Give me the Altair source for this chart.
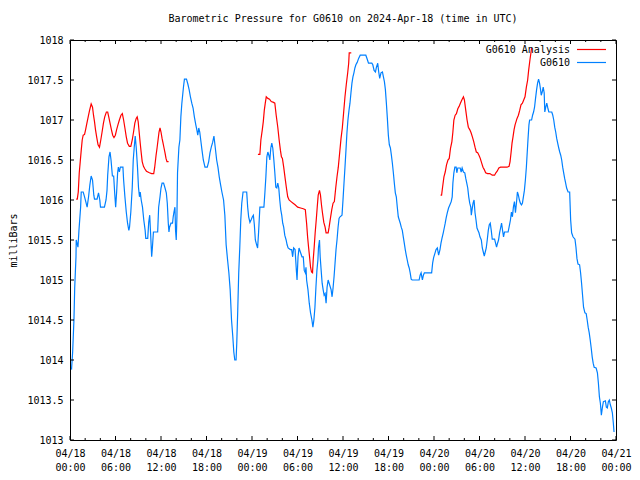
import altair as alt
import pandas as pd

# ---------------- data ----------------
# time axis: hours after 2024-04-18 00:00 UTC ; pressure in milliBars
obs_hours = [0.2, 0.35, 0.52, 0.62, 0.79, 0.82, 1.05, 1.18, 1.40, 1.48, 1.74, 1.92, 2.13, 2.26, 2.45, 2.62,
             2.79, 2.97, 3.14, 3.23, 3.57, 3.76, 3.93, 4.02, 4.54, 4.75, 4.88, 4.97, 5.14, 5.28, 5.41, 5.59,
             5.76, 5.89, 6.02, 6.15, 6.28, 6.38, 6.51, 6.64, 6.81, 6.98, 7.07, 7.24, 7.42, 7.59, 7.76, 7.85,
             8.02, 8.21, 8.34, 8.47, 8.60, 8.73, 8.90, 9.03, 9.16, 9.26, 9.39, 9.56, 9.73, 9.91, 9.99, 10.25,
             10.38, 10.51, 10.64, 10.77, 10.87, 11.00, 11.56, 11.69, 11.87, 12.00, 12.14, 12.34, 12.53, 12.70,
             12.83, 12.96, 13.05, 13.13, 13.31, 13.52, 13.61, 13.71, 13.84, 13.92, 14.01, 14.10, 14.18, 14.36,
             14.49, 14.62, 14.75, 14.96, 15.09, 15.36, 15.54, 15.71, 15.88, 16.06, 16.23, 16.40, 16.59, 16.72,
             16.85, 16.98, 17.11, 17.24, 17.41, 17.58, 17.80, 18.10, 18.29, 18.46, 18.63, 18.81, 18.98, 19.15,
             19.34, 19.51, 19.68, 19.86, 20.03, 20.25, 20.42, 20.59, 20.78, 20.95, 21.12, 21.30, 21.47, 21.60,
             21.73, 21.90, 21.99, 22.12, 22.25, 22.39, 22.52, 22.65, 22.82, 23.30, 23.43, 23.56, 23.73, 23.92,
             24.05, 24.18, 24.31, 24.44, 24.61, 24.74, 24.87, 25.04, 25.57, 25.70, 25.83, 25.96, 26.09, 26.22,
             26.35, 26.48, 26.61, 26.74, 26.88, 27.01, 27.14, 27.27, 27.40, 27.53, 27.66, 27.79, 27.92, 28.05,
             28.18, 28.32, 28.50, 28.63, 28.76, 29.06, 29.23, 29.36, 29.49, 29.68, 29.85, 29.94, 30.07, 30.20,
             30.41, 30.59, 30.76, 30.89, 31.03, 31.12, 31.20, 31.38, 31.55, 31.72, 31.90, 32.03, 32.16, 32.30,
             32.43, 32.56, 32.69, 32.77, 32.90, 32.99, 33.12, 33.25, 33.38, 33.51, 33.64, 33.77, 33.90, 34.04,
             34.17, 34.43, 34.56, 34.69, 34.82, 34.95, 35.08, 35.21, 35.35, 35.48, 35.61, 35.87, 36.00, 36.13,
             36.26, 36.39, 36.52, 36.65, 36.79, 36.92, 37.05, 37.18, 37.31, 37.44, 37.57, 37.70, 37.87, 38.06,
             38.27, 39.01, 39.23, 39.36, 39.80, 39.93, 40.10, 40.28, 40.41, 40.58, 40.71, 40.84, 41.01, 41.20,
             41.33, 41.46, 41.59, 41.72, 41.85, 41.98, 42.11, 42.25, 42.38, 42.51, 42.64, 42.77, 42.90, 43.03,
             43.16, 43.29, 43.42, 43.55, 43.68, 43.82, 43.95, 44.08, 44.21, 44.34, 44.47, 44.60, 44.73, 44.86,
             44.99, 45.12, 46.04, 46.17, 46.30, 46.47, 46.60, 46.73, 47.48, 47.69, 47.82, 47.95, 48.14, 48.27,
             48.44, 48.61, 48.79, 48.92, 49.05, 49.22, 49.35, 49.48, 49.61, 49.75, 49.92, 50.10, 50.27, 50.40,
             50.49, 50.62, 50.75, 50.92, 51.01, 51.14, 51.45, 51.58, 51.71, 51.88, 52.06, 52.19, 52.32, 52.45,
             52.58, 52.71, 52.85, 52.92, 53.02, 53.15, 53.28, 53.41, 53.54, 53.67, 53.80, 53.93, 54.06, 54.24,
             54.37, 54.50, 54.63, 54.76, 54.89, 55.02, 55.16, 55.29, 55.42, 55.55, 55.68, 55.99, 56.25, 56.38,
             56.51, 56.65, 56.78, 56.91, 57.04, 57.17, 57.30, 57.77, 57.90, 58.08, 58.21, 58.34, 58.47, 58.61,
             58.74, 58.87, 59.00, 59.13, 59.26, 59.39, 59.53, 59.66, 59.79, 59.92, 60.05, 60.18, 60.26, 60.39,
             60.52, 60.61, 60.87, 61.00, 61.13, 61.26, 61.39, 61.53, 61.66, 61.79, 61.92, 62.05, 62.14, 62.27,
             62.40, 62.53, 62.61, 62.74, 62.87, 63.01, 63.14, 63.53, 63.66, 63.79, 63.92, 64.05, 64.18, 64.31,
             64.45, 64.58, 64.71, 64.84, 64.97, 65.10, 65.23, 65.36, 65.49, 65.68, 65.89, 66.02, 66.15, 66.33,
             66.59, 66.72, 66.85, 66.99, 67.20, 67.33, 67.46, 67.59, 67.72, 67.90, 68.07, 68.20, 68.33, 68.47,
             68.60, 68.73, 68.86, 68.99, 69.12, 69.38, 69.55, 69.68, 69.81, 69.94, 70.07, 70.21, 70.34, 70.60,
             70.73, 70.86, 70.99, 71.12, 71.25, 71.38, 71.52, 71.65, 71.74]
obs_mbar = [1013.88, 1014.10, 1014.50, 1014.90, 1015.29, 1015.50, 1015.41, 1015.62, 1015.91, 1016.10, 1016.10,
            1016.04, 1015.96, 1015.91, 1016.04, 1016.19, 1016.30, 1016.25, 1016.06, 1016.01, 1016.01, 1016.09,
            1016.00, 1015.91, 1015.91, 1016.00, 1016.12, 1016.31, 1016.54, 1016.60, 1016.50, 1016.30, 1016.30,
            1016.09, 1015.91, 1016.10, 1016.34, 1016.41, 1016.35, 1016.41, 1016.41, 1016.41, 1016.25, 1016.04,
            1015.85, 1015.71, 1015.62, 1015.66, 1015.85, 1016.16, 1016.50, 1016.66, 1016.80, 1016.66, 1016.41,
            1016.16, 1016.04, 1016.10, 1016.00, 1015.91, 1015.75, 1015.62, 1015.52, 1015.52, 1015.72, 1015.81,
            1015.56, 1015.29, 1015.41, 1015.60, 1015.60, 1015.91, 1016.04, 1016.15, 1016.21, 1016.21, 1016.15,
            1016.09, 1015.96, 1015.71, 1015.60, 1015.66, 1015.71, 1015.71, 1015.79, 1015.85, 1015.91, 1015.62,
            1015.50, 1015.79, 1016.34, 1016.66, 1016.75, 1017.04, 1017.21, 1017.41, 1017.51, 1017.51, 1017.45,
            1017.38, 1017.29, 1017.21, 1017.15, 1017.04, 1016.94, 1016.88, 1016.81, 1016.90, 1016.85, 1016.75,
            1016.62, 1016.50, 1016.41, 1016.41, 1016.48, 1016.59, 1016.66, 1016.72, 1016.80, 1016.66, 1016.50,
            1016.41, 1016.29, 1016.19, 1016.10, 1016.00, 1015.81, 1015.44, 1015.25, 1015.09, 1014.88, 1014.50,
            1014.29, 1014.10, 1014.00, 1014.00, 1014.21, 1014.62, 1015.09, 1015.41, 1015.75, 1015.96, 1016.10,
            1016.10, 1015.91, 1015.79, 1015.72, 1015.76, 1015.79, 1015.81, 1015.69, 1015.50, 1015.44, 1015.40,
            1015.60, 1015.91, 1015.91, 1016.09, 1016.29, 1016.54, 1016.60, 1016.56, 1016.50, 1016.65, 1016.71,
            1016.65, 1016.50, 1016.34, 1016.16, 1016.15, 1016.21, 1016.15, 1016.00, 1015.88, 1015.81, 1015.71,
            1015.66, 1015.56, 1015.50, 1015.44, 1015.40, 1015.38, 1015.38, 1015.29, 1015.40, 1015.38, 1015.12,
            1015.00, 1015.29, 1015.40, 1015.34, 1015.29, 1015.29, 1015.12, 1015.09, 1015.16, 1015.00, 1014.88,
            1014.71, 1014.59, 1014.50, 1014.41, 1014.50, 1014.66, 1014.91, 1015.12, 1015.25, 1015.41, 1015.50,
            1015.29, 1015.12, 1014.96, 1014.88, 1014.81, 1014.83, 1014.71, 1014.91, 1015.00, 1014.96, 1014.88,
            1014.79, 1014.90, 1015.04, 1015.21, 1015.38, 1015.50, 1015.66, 1015.77, 1015.79, 1015.81, 1016.00,
            1016.21, 1016.41, 1016.62, 1016.84, 1017.00, 1017.12, 1017.21, 1017.34, 1017.46, 1017.54, 1017.59,
            1017.65, 1017.69, 1017.72, 1017.77, 1017.81, 1017.81, 1017.75, 1017.71, 1017.71, 1017.69, 1017.62,
            1017.60, 1017.66, 1017.71, 1017.60, 1017.52, 1017.59, 1017.60, 1017.54, 1017.48, 1017.38, 1017.21,
            1017.02, 1016.81, 1016.69, 1016.65, 1016.56, 1016.46, 1016.34, 1016.21, 1016.09, 1016.04, 1015.91,
            1015.79, 1015.75, 1015.71, 1015.66, 1015.62, 1015.54, 1015.46, 1015.38, 1015.31, 1015.25, 1015.19,
            1015.15, 1015.09, 1015.01, 1015.00, 1015.00, 1015.06, 1015.09, 1015.00, 1015.06, 1015.09, 1015.09,
            1015.09, 1015.21, 1015.28, 1015.34, 1015.38, 1015.40, 1015.31, 1015.38, 1015.46, 1015.52, 1015.59,
            1015.65, 1015.71, 1015.78, 1015.84, 1015.90, 1015.94, 1015.98, 1016.04, 1016.21, 1016.34, 1016.41,
            1016.41, 1016.34, 1016.40, 1016.40, 1016.35, 1016.40, 1016.35, 1016.34, 1016.27, 1016.21, 1016.15,
            1016.04, 1015.96, 1015.91, 1015.81, 1015.88, 1015.96, 1016.00, 1015.84, 1015.75, 1015.65, 1015.62,
            1015.59, 1015.54, 1015.50, 1015.40, 1015.35, 1015.30, 1015.35, 1015.40, 1015.50, 1015.62, 1015.69,
            1015.71, 1015.62, 1015.51, 1015.51, 1015.41, 1015.46, 1015.50, 1015.59, 1015.65, 1015.71, 1015.62,
            1015.54, 1015.60, 1015.60, 1015.66, 1015.75, 1015.85, 1015.79, 1015.91, 1015.98, 1015.84, 1015.96,
            1016.10, 1016.06, 1016.00, 1015.96, 1015.94, 1015.96, 1016.04, 1016.12, 1016.25, 1016.41, 1016.54,
            1016.75, 1016.94, 1017.00, 1017.00, 1017.06, 1017.10, 1017.16, 1017.27, 1017.38, 1017.46, 1017.51,
            1017.46, 1017.38, 1017.31, 1017.35, 1017.41, 1017.34, 1017.10, 1017.16, 1017.21, 1017.15, 1017.10,
            1017.10, 1017.06, 1017.00, 1016.91, 1016.85, 1016.77, 1016.71, 1016.65, 1016.60, 1016.56, 1016.50,
            1016.41, 1016.34, 1016.27, 1016.21, 1016.15, 1016.10, 1016.10, 1015.75, 1015.59, 1015.54, 1015.51,
            1015.41, 1015.27, 1015.20, 1015.19, 1015.09, 1014.96, 1014.81, 1014.66, 1014.59, 1014.58, 1014.50,
            1014.41, 1014.34, 1014.25, 1014.15, 1014.04, 1013.96, 1013.91, 1013.90, 1013.84, 1013.71, 1013.54,
            1013.46, 1013.31, 1013.41, 1013.48, 1013.49, 1013.41, 1013.40, 1013.48, 1013.50, 1013.44, 1013.40,
            1013.34, 1013.21, 1013.10]

ana1_hours = [0.82, 0.96, 1.09, 1.22, 1.35, 1.48, 1.61, 1.74, 1.92, 2.06, 2.23, 2.40, 2.58, 2.79, 2.97, 3.10,
              3.23, 3.36, 3.53, 3.70, 3.89, 4.06, 4.23, 4.41, 4.58, 4.80, 4.97, 5.11, 5.28, 5.46, 5.63, 5.80,
              5.98, 6.15, 6.32, 6.51, 6.72, 6.90, 7.07, 7.24, 7.42, 7.59, 7.82, 8.02, 8.21, 8.38, 8.55, 8.73,
              8.86, 8.99, 9.12, 9.26, 9.39, 9.52, 9.69, 9.86, 10.08, 10.47, 10.77, 11.04, 11.17, 11.35, 11.48,
              11.61, 11.74, 11.87, 12.00, 12.14, 12.27, 12.40, 12.53, 12.66, 12.79, 13.00]
ana1_mbar = [1016.01, 1016.01, 1016.10, 1016.34, 1016.48, 1016.62, 1016.75, 1016.81, 1016.82, 1016.88, 1016.96,
             1017.04, 1017.12, 1017.20, 1017.16, 1017.06, 1016.98, 1016.88, 1016.78, 1016.69, 1016.66, 1016.75,
             1016.85, 1016.96, 1017.04, 1017.10, 1017.10, 1017.04, 1016.96, 1016.88, 1016.81, 1016.78, 1016.81,
             1016.88, 1016.94, 1017.00, 1017.06, 1017.08, 1017.00, 1016.90, 1016.79, 1016.71, 1016.67, 1016.67,
             1016.75, 1016.85, 1016.96, 1017.02, 1017.04, 1016.98, 1016.85, 1016.71, 1016.59, 1016.48, 1016.42,
             1016.39, 1016.36, 1016.34, 1016.33, 1016.33, 1016.41, 1016.56, 1016.65, 1016.75, 1016.85, 1016.90,
             1016.85, 1016.77, 1016.71, 1016.65, 1016.59, 1016.52, 1016.48, 1016.48]

ana2_hours = [24.78, 25.04, 25.17, 25.36, 25.49, 25.62, 25.75, 25.88, 26.09, 26.31, 26.54, 26.84, 27.01, 27.19,
              27.40, 27.58, 27.75, 27.88, 28.01, 28.18, 28.37, 28.54, 28.71, 28.89, 29.15, 29.42, 29.68, 30.02,
              30.41, 30.76, 31.03, 31.20, 31.33, 31.46, 31.59, 31.72, 31.85, 31.98, 32.07, 32.20, 32.33, 32.47,
              32.60, 32.73, 32.90, 33.03, 33.16, 33.29, 33.47, 33.64, 33.77, 34.04, 34.17, 34.34, 34.52, 34.69,
              34.86, 35.04, 35.21, 35.38, 35.57, 35.74, 35.91, 36.09, 36.26, 36.43, 36.62, 36.75, 36.82, 37.09]
ana2_mbar = [1016.57, 1016.57, 1016.75, 1016.88, 1016.98, 1017.12, 1017.21, 1017.29, 1017.27, 1017.26, 1017.23,
             1017.22, 1017.21, 1017.06, 1016.91, 1016.75, 1016.62, 1016.54, 1016.52, 1016.41, 1016.27, 1016.15,
             1016.04, 1016.00, 1015.98, 1015.96, 1015.94, 1015.91, 1015.90, 1015.89, 1015.88, 1015.71, 1015.54,
             1015.41, 1015.29, 1015.16, 1015.10, 1015.09, 1015.25, 1015.41, 1015.59, 1015.75, 1015.91, 1016.06,
             1016.12, 1016.06, 1015.94, 1015.84, 1015.72, 1015.66, 1015.59, 1015.59, 1015.66, 1015.77, 1015.88,
             1015.96, 1015.98, 1016.15, 1016.29, 1016.41, 1016.60, 1016.77, 1016.90, 1017.10, 1017.29, 1017.44,
             1017.59, 1017.71, 1017.84, 1017.84]

ana3_hours = [48.87, 49.00, 49.13, 49.31, 49.48, 49.65, 49.84, 50.01, 50.18, 50.36, 50.49, 50.62, 50.79, 50.96,
              51.14, 51.31, 51.48, 51.67, 51.88, 52.01, 52.19, 52.36, 52.53, 52.71, 52.89, 53.06, 53.24, 53.41,
              53.58, 53.76, 53.93, 54.10, 54.29, 54.46, 54.63, 54.81, 55.07, 55.37, 55.68, 55.99, 56.16, 56.33,
              56.55, 56.78, 57.12, 57.64, 57.90, 58.03, 58.16, 58.29, 58.42, 58.56, 58.69, 58.82, 58.95, 59.13,
              59.30, 59.47, 59.66, 59.83, 60.00, 60.18, 60.35, 60.48, 60.65, 60.87]
ana3_mbar = [1016.06, 1016.06, 1016.16, 1016.29, 1016.35, 1016.44, 1016.50, 1016.52, 1016.65, 1016.73, 1016.85,
             1017.00, 1017.06, 1017.08, 1017.14, 1017.17, 1017.21, 1017.25, 1017.29, 1017.25, 1017.12, 1017.00,
             1016.91, 1016.88, 1016.84, 1016.79, 1016.73, 1016.66, 1016.60, 1016.59, 1016.56, 1016.52, 1016.46,
             1016.41, 1016.38, 1016.34, 1016.33, 1016.33, 1016.31, 1016.31, 1016.34, 1016.36, 1016.40, 1016.41,
             1016.41, 1016.41, 1016.42, 1016.48, 1016.59, 1016.71, 1016.79, 1016.88, 1016.94, 1016.98, 1017.02,
             1017.06, 1017.12, 1017.19, 1017.21, 1017.25, 1017.29, 1017.41, 1017.50, 1017.62, 1017.75, 1017.90]

x_major_hours = [0, 6, 12, 18, 24, 30, 36, 42, 48, 54, 60, 66, 72]
x_minor_hours = [2, 4, 8, 10, 14, 16, 20, 22, 26, 28, 32, 34, 38, 40, 44, 46, 50, 52, 56, 58, 62, 64, 68, 70]
y_ticks = [1013.0, 1013.5, 1014.0, 1014.5, 1015.0, 1015.5, 1016.0, 1016.5, 1017.0, 1017.5, 1018.0]
series_names = ["G0610 Analysis", "G0610"]
series_colors = ["#ff0000", "#0080ff"]
title_text = "Barometric Pressure for G0610 on 2024-Apr-18 (time in UTC)"
y_title = "milliBars"

# ---------------- build ----------------
FONT = "DejaVu Sans Mono"
BASE = pd.Timestamp("2024-04-18 00:00:00")
W, H = 546, 400


def iso(h):
    return (BASE + pd.Timedelta(hours=float(h))).strftime("%Y-%m-%dT%H:%M:%SZ")


def dt(h):
    t = BASE + pd.Timedelta(hours=float(h))
    return alt.DateTime(year=t.year, month=t.month, date=t.day, hours=t.hour, minutes=t.minute, utc=True)


obs_df = pd.DataFrame({"time": [iso(h) for h in obs_hours], "mbar": obs_mbar})
ana_rows = []
for seg, (hs, ps) in enumerate([(ana1_hours, ana1_mbar), (ana2_hours, ana2_mbar), (ana3_hours, ana3_mbar)]):
    for h, p in zip(hs, ps):
        ana_rows.append({"time": iso(h), "mbar": p, "seg": seg})
ana_df = pd.DataFrame(ana_rows)

major_df = pd.DataFrame({"time": [iso(h) for h in x_major_hours]})
minor_df = pd.DataFrame({"time": [iso(h) for h in x_minor_hours]})
ytick_df = pd.DataFrame({"mbar": y_ticks})
one_df = pd.DataFrame({"k": [0]})

xscale = alt.Scale(type="utc", domain=[dt(x_major_hours[0]), dt(x_major_hours[-1])])
yscale = alt.Scale(domain=[y_ticks[0], y_ticks[-1]], nice=False, zero=False)

x_axis = alt.Axis(
    values=[dt(h) for h in x_major_hours],
    labelExpr="[utcFormat(datum.value, '%m/%d'), utcFormat(datum.value, '%H:%M')]",
    title=None, ticks=False, domain=False, grid=False,
    labelFont=FONT, labelFontSize=10, labelColor="black",
    labelPadding=8, labelLineHeight=14, labelFlush=False, labelOverlap=False,
    labelBaseline="top",
)
y_axis = alt.Axis(
    values=y_ticks, format="~g", title=y_title,
    ticks=False, domain=False, grid=False,
    labelFont=FONT, labelFontSize=10, labelColor="black", labelPadding=7,
    titleFont=FONT, titleFontSize=10, titleFontWeight="normal", titleColor="black",
    titleAngle=-90, titleX=-57, titleY=200, titleAlign="center", titleBaseline="middle",
)

X = alt.X("time:T", scale=xscale, axis=x_axis, title=None)
Y = alt.Y("mbar:Q", scale=yscale, axis=y_axis, title=y_title)

ana_line = alt.Chart(ana_df).mark_line(color=series_colors[0], strokeWidth=1.2).encode(
    x=X, y=Y, detail="seg:N")
obs_line = alt.Chart(obs_df).mark_line(color=series_colors[1], strokeWidth=1.2).encode(x=X, y=Y)

# inward (gnuplot style) ticks, mirrored on all four sides
tick = dict(color="black", strokeWidth=1)
bot_major = alt.Chart(major_df).mark_rule(**tick).encode(x=X, y=alt.value(H), y2=alt.value(H - 4))
top_major = alt.Chart(major_df).mark_rule(**tick).encode(x=X, y=alt.value(0), y2=alt.value(4))
bot_minor = alt.Chart(minor_df).mark_rule(**tick).encode(x=X, y=alt.value(H), y2=alt.value(H - 2))
top_minor = alt.Chart(minor_df).mark_rule(**tick).encode(x=X, y=alt.value(0), y2=alt.value(2))
left_ticks = alt.Chart(ytick_df).mark_rule(**tick).encode(y=Y, x=alt.value(0), x2=alt.value(4))
right_ticks = alt.Chart(ytick_df).mark_rule(**tick).encode(y=Y, x=alt.value(W), x2=alt.value(W - 4))

# key (top right, inside the plot)
key_layers = []
for i, (name, col) in enumerate(zip(series_names, series_colors)):
    yy = 9.5 + 13 * i
    key_layers.append(
        alt.Chart(one_df).mark_text(align="right", baseline="middle", font=FONT, fontSize=10,
                                    color="black").encode(
            x=alt.value(W - 46), y=alt.value(yy), text=alt.value(name)))
    key_layers.append(
        alt.Chart(one_df).mark_rule(color=col, strokeWidth=1.2).encode(
            x=alt.value(W - 39), x2=alt.value(W - 10), y=alt.value(yy)))

chart = alt.layer(
    ana_line, obs_line, bot_major, top_major, bot_minor, top_minor, left_ticks, right_ticks, *key_layers
).properties(
    width=W, height=H,
    title=alt.TitleParams(title_text, font=FONT, fontSize=10, fontWeight="normal", color="black",
                          anchor="middle", frame="group", offset=11),
    autosize=alt.AutoSizeParams(type="none"),
    padding={"left": 62, "top": 32, "right": 16, "bottom": 32},
    background="white",
).configure_view(stroke="black", strokeWidth=1)

chart.save("out.html", embed_options={"renderer": "svg", "actions": False})
